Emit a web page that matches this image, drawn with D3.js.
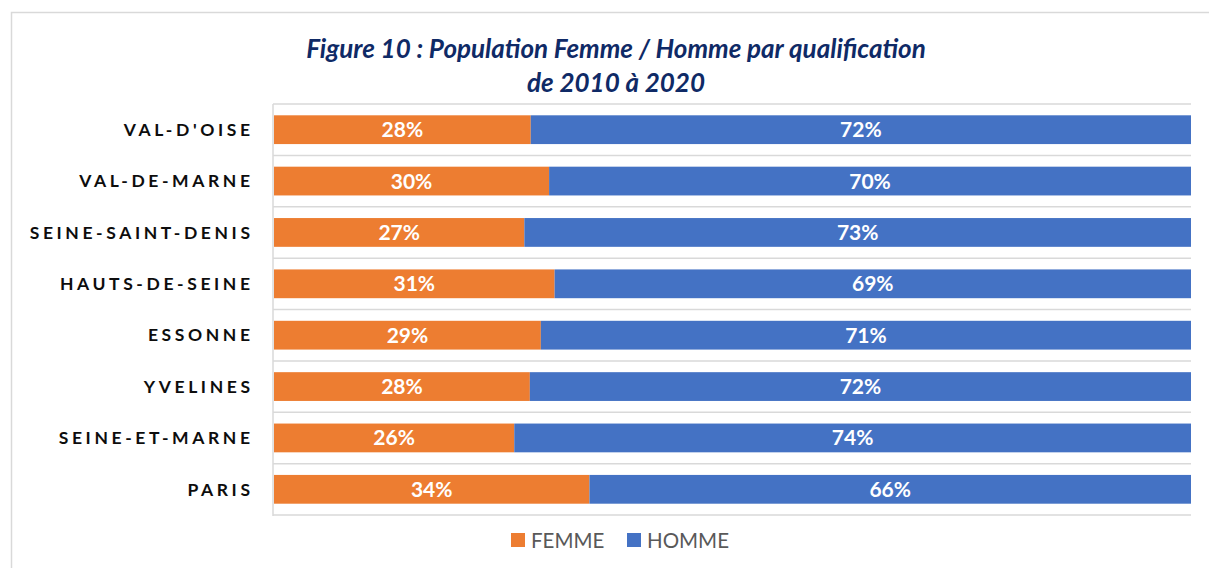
<!DOCTYPE html>
<html>
<head>
<meta charset="utf-8">
<script src="https://cdn.jsdelivr.net/npm/d3@7"></script>
<style>
  body { margin: 0; background: #fff; }
  svg { display: block; }
</style>
</head>
<body>
<div id="chart"></div>
<script>
// data
var categories = ["VAL-D'OISE", "VAL-DE-MARNE", "SEINE-SAINT-DENIS", "HAUTS-DE-SEINE",
                  "ESSONNE", "YVELINES", "SEINE-ET-MARNE", "PARIS"];
var femme = [28.0, 30.0, 27.3, 30.6, 29.1, 27.9, 26.2, 34.4];
var homme = [72.0, 70.0, 72.7, 69.4, 70.9, 72.1, 73.8, 65.6];
var seriesNames = ["FEMME", "HOMME"];
var seriesColors = ["#ED7D31", "#4472C4"];
var titleLines = ["Figure 10 : Population Femme / Homme par qualification", "de 2010 à 2020"];

var W = 1209, H = 568;
var plotL = 274, plotR = 1191, plotT = 104, plotB = 515;

var svg = d3.select("#chart").append("svg")
  .attr("width", W)
  .attr("height", H);

// outer frame of the chart object
svg.append("rect")
  .attr("x", 11.5).attr("y", 12.5)
  .attr("width", 1300).attr("height", 700)
  .attr("fill", "none")
  .attr("stroke", "#d9d9d9")
  .attr("stroke-width", 1.5);

// title
svg.append("text")
  .attr("text-anchor", "middle")
  .attr("font-family", "Lato, sans-serif")
  .attr("font-weight", "bold")
  .attr("font-style", "italic")
  .attr("font-size", 26)
  .attr("fill", "#0f2a66")
  .selectAll("tspan").data(titleLines).enter().append("tspan")
  .attr("x", 616)
  .attr("y", function(d, i){ return 58 + i * 34; })
  .text(function(d){ return d; });

var x = d3.scaleLinear().domain([0, 100]).range([plotL, plotR]);
var y = d3.scaleBand().domain(categories).range([plotT, plotB])
  .paddingInner(0.44).paddingOuter(0.22);

// band separators
var step = y.step();
var gridYs = d3.range(categories.length + 1).map(function(i){ return plotT + i * step; });
svg.append("g").selectAll("line").data(gridYs).enter().append("line")
  .attr("x1", plotL - 1).attr("x2", plotR)
  .attr("y1", function(d){ return d; })
  .attr("y2", function(d){ return d; })
  .attr("stroke", "#d9d9d9")
  .attr("stroke-width", 1.5);

svg.append("line")
  .attr("x1", plotL - 1).attr("x2", plotL - 1)
  .attr("y1", plotT).attr("y2", plotB + 1)
  .attr("stroke", "#d9d9d9")
  .attr("stroke-width", 1.5);

// stacked segments
var rows = categories.map(function(c, i){
  return { cat: c, segs: [
    { s: 0, cat: c, x0: 0, x1: femme[i], v: femme[i] },
    { s: 1, cat: c, x0: femme[i], x1: femme[i] + homme[i], v: homme[i] }
  ]};
});

var g = svg.append("g").selectAll("g").data(rows).enter().append("g");

g.selectAll("rect").data(function(d){ return d.segs; })
  .enter().append("rect")
  .attr("x", function(d){ return x(d.x0); })
  .attr("y", function(d){ return y(d.cat); })
  .attr("width", function(d){ return x(d.x1) - x(d.x0); })
  .attr("height", y.bandwidth())
  .attr("fill", function(d){ return seriesColors[d.s]; });

g.selectAll("text").data(function(d){ return d.segs; })
  .enter().append("text")
  .attr("x", function(d){ return (x(d.x0) + x(d.x1)) / 2; })
  .attr("y", function(d){ return y(d.cat) + y.bandwidth() / 2; })
  .attr("dy", "0.36em")
  .attr("text-anchor", "middle")
  .attr("font-family", "Lato, sans-serif")
  .attr("font-weight", "bold")
  .attr("font-size", 21)
  .attr("fill", "#fff")
  .text(function(d){ return Math.round(d.v) + "%"; });

// category labels (letter-spacing trails the last glyph, so shift right)
var labelSpacing = 3.6;
svg.append("g").selectAll("text").data(categories).enter().append("text")
  .attr("x", 250 + labelSpacing)
  .attr("y", function(d){ return y(d) + y.bandwidth() / 2; })
  .attr("dy", "0.36em")
  .attr("text-anchor", "end")
  .attr("font-family", "Lato, sans-serif")
  .attr("font-weight", "bold")
  .attr("font-size", 17.5)
  .attr("letter-spacing", labelSpacing + "px")
  .attr("fill", "#0d0d0d")
  .text(function(d){ return d; });

// legend
var legendX = [511, 627];
var lg = svg.append("g").selectAll("g").data(seriesNames).enter().append("g")
  .attr("transform", function(d, i){ return "translate(" + legendX[i] + ",533)"; });
lg.append("rect")
  .attr("width", 14).attr("height", 14)
  .attr("fill", function(d, i){ return seriesColors[i]; });
lg.append("text")
  .attr("x", 20).attr("y", 14.5)
  .attr("font-family", "Lato, sans-serif")
  .attr("font-size", 20.5)
  .attr("fill", "#595959")
  .text(function(d){ return d; });
</script>
</body>
</html>
